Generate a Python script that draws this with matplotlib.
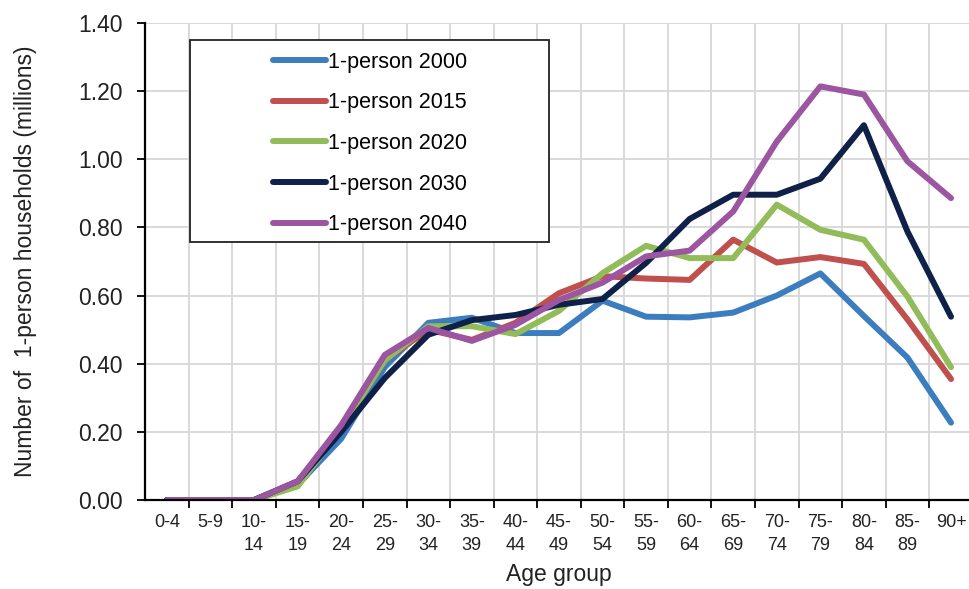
import matplotlib
matplotlib.use('Agg')
import matplotlib.pyplot as plt
from matplotlib.patches import Rectangle
import numpy as np

plt.rcParams['font.family'] = ['Liberation Sans', 'DejaVu Sans']

age_groups = ['0-4', '5-9', '10-\n14', '15-\n19', '20-\n24', '25-\n29', '30-\n34', '35-\n39',
              '40-\n44', '45-\n49', '50-\n54', '55-\n59', '60-\n64', '65-\n69', '70-\n74',
              '75-\n79', '80-\n84', '85-\n89', '90+']

p2000 = [0, 0, 0, 0.045, 0.18, 0.39, 0.52, 0.535, 0.49, 0.49, 0.585, 0.538, 0.536, 0.55,
         0.60, 0.665, 0.54, 0.418, 0.227]
p2015 = [0, 0, 0, 0.05, 0.21, 0.41, 0.50, 0.47, 0.52, 0.607, 0.657, 0.65, 0.646, 0.764,
         0.697, 0.713, 0.693, 0.53, 0.355]
p2020 = [0, 0, 0, 0.04, 0.21, 0.41, 0.51, 0.51, 0.487, 0.555, 0.666, 0.746, 0.71, 0.71,
         0.867, 0.793, 0.764, 0.597, 0.39]
p2030 = [0, 0, 0, 0.055, 0.20, 0.358, 0.485, 0.528, 0.543, 0.573, 0.59, 0.696, 0.825, 0.896,
         0.896, 0.943, 1.10, 0.788, 0.538]
p2040 = [0, 0, 0, 0.055, 0.22, 0.426, 0.505, 0.467, 0.514, 0.587, 0.638, 0.715, 0.732, 0.847,
         1.052, 1.214, 1.19, 0.994, 0.886]

series = [('1-person 2000', p2000, '#3c7dbf'),
          ('1-person 2015', p2015, '#c0504d'),
          ('1-person 2020', p2020, '#92bb5a'),
          ('1-person 2030', p2030, '#0f2149'),
          ('1-person 2040', p2040, '#9c55a0')]

fig = plt.figure(figsize=(9.7, 5.89), dpi=100)
ax = fig.add_axes([145.2 / 970, 1 - 500 / 589, 827.6 / 970, 477 / 589])

x = np.arange(len(age_groups))
for label, vals, col in series:
    ax.plot(x, vals, color=col, linewidth=4.3, label=label,
            solid_capstyle='round', solid_joinstyle='round')

ax.set_xlim(-0.5, len(age_groups) - 0.5)
ax.set_ylim(0, 1.4)
ax.set_yticks(np.arange(0, 1.41, 0.2))
ax.set_yticklabels(['%.2f' % v for v in np.arange(0, 1.41, 0.2)], fontsize=16.5, color='#222222')
ax.set_xticks(x)
ax.set_xticklabels(age_groups, fontsize=13, linespacing=1.45, color='#222222')
ax.set_xticks(np.arange(0.5, len(age_groups) - 0.5, 1), minor=True)
ax.tick_params(axis='x', which='major', length=0, pad=10)
ax.tick_params(axis='x', which='minor', length=6, width=1.3, direction='out')
ax.tick_params(axis='y', length=6, width=1.3, direction='out', pad=10)

ax.grid(True, axis='y', which='major', color='#d9d9d9', linewidth=1.4)
ax.grid(True, axis='x', which='minor', color='#d9d9d9', linewidth=1.4)
ax.set_axisbelow(True)
for s in ['top', 'right']:
    ax.spines[s].set_visible(False)
for s in ['left', 'bottom']:
    ax.spines[s].set_linewidth(1.6)
    ax.spines[s].set_zorder(5)

ax.set_xlabel('Age group', fontsize=16.5, labelpad=7, color='#222222')
ax.set_ylabel('Number of  1-person households (millions)', fontsize=16.5, labelpad=30,
              color='#222222')

# legend frame drawn separately, entries placed inside it
frame = Rectangle((190, 589 - 242), 549 - 190, 242 - 40, transform=None, clip_on=False,
                  facecolor='white', edgecolor='#222222', linewidth=1.3, zorder=6)
ax.add_patch(frame)
leg = ax.legend(loc='upper left', bbox_to_anchor=(262 / 970, 1 - 41 / 589),
                bbox_transform=fig.transFigure, frameon=False, fontsize=15.5,
                handlelength=2.45, handletextpad=0.1, labelspacing=0.91, borderpad=0.0)
leg.set_zorder(7)

fig.savefig('out.png', dpi=100)
